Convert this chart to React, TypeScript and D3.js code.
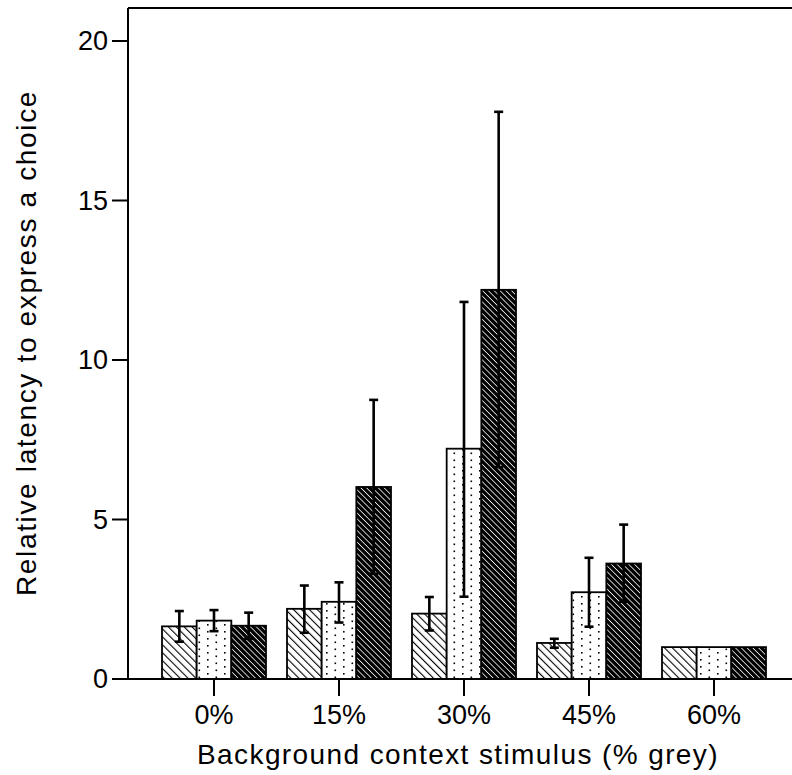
import React from "react";
import { scaleBand, scaleLinear } from "d3";

const categories = ["0%", "15%", "30%", "45%", "60%"];
const series = ["a", "b", "c"];
const means = [
  [1.65, 2.2, 2.05, 1.13, 1.0],
  [1.83, 2.42, 7.22, 2.72, 1.0],
  [1.67, 6.02, 12.2, 3.62, 1.0]
];
const upper = [
  [2.13, 2.93, 2.57, 1.26, null],
  [2.16, 3.03, 11.82, 3.8, null],
  [2.08, 8.75, 17.78, 4.84, null]
];
const lower = [
  [1.17, 1.45, 1.52, 0.98, null],
  [1.5, 1.77, 2.58, 1.64, null],
  [1.26, 3.3, 6.64, 2.42, null]
];
const yTicks = [0, 5, 10, 15, 20];

const width = 792,
  height = 775;
const fontFamily = "Liberation Sans, Arial, sans-serif";

export default function App() {
  const x = scaleBand<string>()
    .domain(categories)
    .range([151.5, 776.5])
    .paddingInner(0.168)
    .paddingOuter(0.084);
  const xs = scaleBand<string>().domain(series).range([0, x.bandwidth()]);
  const y = scaleLinear().domain([0, 20]).range([679, 41]);
  const left = 128,
    top = 8,
    base = y(0);
  const fills = ["url(#hatchLight)", "url(#dots)", "url(#hatchDark)"];
  const cap = 4.5;

  return (
    <svg
      width={width}
      height={height}
      style={{ position: "absolute", left: 0, top: 0, background: "#fff" }}
    >
      <defs>
        <pattern
          id="hatchLight"
          patternUnits="userSpaceOnUse"
          width={5.6}
          height={5.6}
          patternTransform="rotate(-45)"
        >
          <rect width={5.6} height={5.6} fill="#fff" />
          <line x1={0} y1={0} x2={0} y2={5.6} stroke="#000" strokeWidth={2.2} />
        </pattern>
        <pattern
          id="hatchDark"
          patternUnits="userSpaceOnUse"
          width={4.1}
          height={4.1}
          patternTransform="rotate(-45)"
        >
          <rect width={4.1} height={4.1} fill="#000" />
          <line x1={0} y1={0} x2={0} y2={4.1} stroke="#fff" strokeWidth={1.5} />
        </pattern>
        <pattern id="dots" patternUnits="userSpaceOnUse" width={17} height={7}>
          <rect width={17} height={7} fill="#fff" />
          <rect x={3} y={1} width={1.6} height={1.6} fill="#000" />
          <rect x={11.5} y={4.5} width={1.6} height={1.6} fill="#000" />
        </pattern>
      </defs>

      {/* bars */}
      {series.map((s, si) =>
        categories.map((c, ci) => {
          const bx = (x(c) as number) + (xs(s) as number);
          return (
            <rect
              key={s + c}
              x={bx}
              y={y(means[si][ci])}
              width={xs.bandwidth()}
              height={base - y(means[si][ci])}
              fill={fills[si]}
              stroke="#000"
              strokeWidth={1.8}
            />
          );
        })
      )}

      {/* error bars */}
      {series.map((s, si) =>
        categories.map((c, ci) => {
          const hi = upper[si][ci],
            lo = lower[si][ci];
          if (hi == null || lo == null) return null;
          const cx = (x(c) as number) + (xs(s) as number) + xs.bandwidth() / 2;
          return (
            <g key={"e" + s + c} stroke="#000" strokeWidth={2.6}>
              <line x1={cx} x2={cx} y1={y(hi)} y2={y(lo)} />
              <line x1={cx - cap} x2={cx + cap} y1={y(hi)} y2={y(hi)} />
              <line x1={cx - cap} x2={cx + cap} y1={y(lo)} y2={y(lo)} />
            </g>
          );
        })
      )}

      {/* frame / axes */}
      <g stroke="#000" strokeWidth={2}>
        <line x1={left} x2={left} y1={top} y2={base} />
        <line x1={left} x2={width} y1={top} y2={top} />
        <line x1={left} x2={width} y1={base} y2={base} />
      </g>

      {/* y axis ticks */}
      {yTicks.map((t) => (
        <g key={t} transform={`translate(0, ${y(t)})`}>
          <line x1={112} x2={left} stroke="#000" strokeWidth={2} />
          <text
            x={108}
            dy="0.35em"
            textAnchor="end"
            fontFamily={fontFamily}
            fontSize={27}
          >
            {t}
          </text>
        </g>
      ))}

      {/* x axis ticks */}
      {categories.map((c) => {
        const cx = (x(c) as number) + x.bandwidth() / 2;
        return (
          <g key={c} transform={`translate(${cx}, 0)`}>
            <line y1={base} y2={base + 17} stroke="#000" strokeWidth={2} />
            <text
              y={724}
              textAnchor="middle"
              fontFamily={fontFamily}
              fontSize={27}
            >
              {c}
            </text>
          </g>
        );
      })}

      <text
        x={458}
        y={764}
        textAnchor="middle"
        fontFamily={fontFamily}
        fontSize={28}
        letterSpacing={1.4}
      >
        Background context stimulus (% grey)
      </text>
      <text
        transform="translate(36, 343) rotate(-90)"
        textAnchor="middle"
        fontFamily={fontFamily}
        fontSize={28}
        letterSpacing={1.65}
      >
        Relative latency to express a choice
      </text>
    </svg>
  );
}
